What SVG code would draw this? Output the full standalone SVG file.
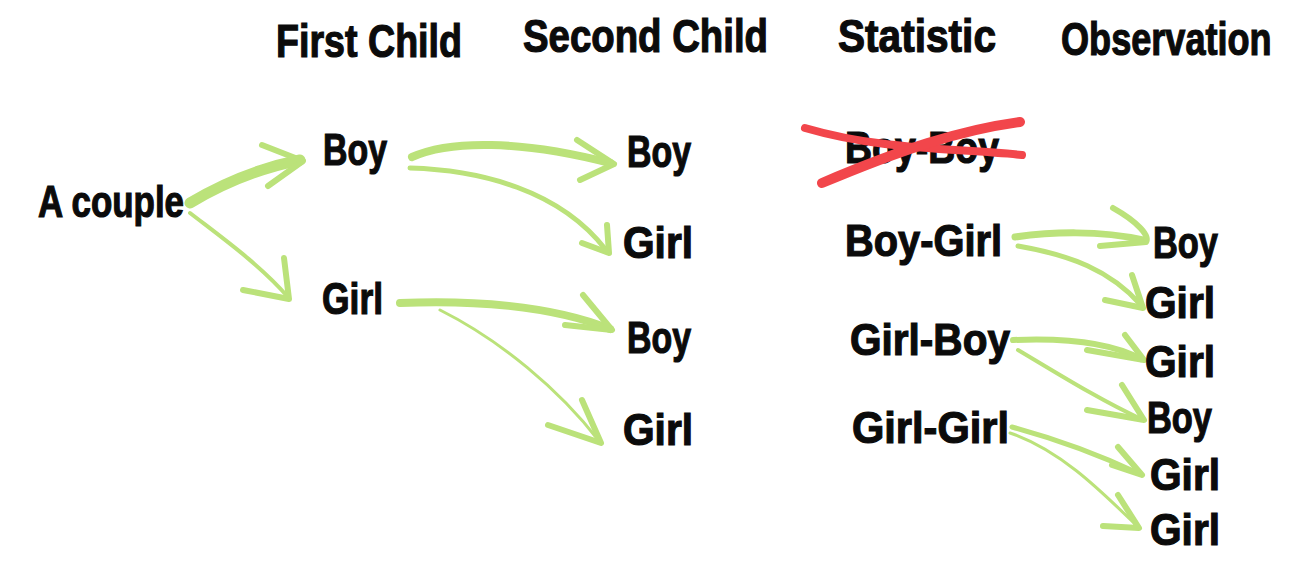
<svg xmlns="http://www.w3.org/2000/svg" width="1295" height="569" viewBox="0 0 1295 569">
<style>
text{font-family:"Liberation Sans","DejaVu Sans",sans-serif;font-weight:bold;fill:#0b0b0b;stroke:#0b0b0b;stroke-width:1.2;font-size:45px}
.h{font-size:46px}
.a{fill:none;stroke:#bbe27a;stroke-linecap:round;stroke-linejoin:round}
.hd{fill:none;stroke:#bbe27a;stroke-width:6;stroke-linecap:round;stroke-linejoin:round}
.x{fill:none;stroke:#f2464b;stroke-linecap:round}
</style>
<rect width="1295" height="569" fill="#ffffff"/>
<g id="headers">
<text class="h" x="276" y="57" textLength="186" lengthAdjust="spacingAndGlyphs">First Child</text>
<text class="h" x="523" y="52" textLength="245" lengthAdjust="spacingAndGlyphs">Second Child</text>
<text class="h" x="838" y="52" textLength="158" lengthAdjust="spacingAndGlyphs">Statistic</text>
<text class="h" transform="translate(1061,55) scale(0.785,1)" x="0" y="0">Observation</text>
</g>
<g id="connectors">
<path class="a" stroke-width="11" d="M190,203 C225,182 260,168 300,160"/>
<path class="hd" stroke-width="7" d="M262,145 L303,161 L268,186"/>
<path class="a" stroke-width="4" d="M190,213 C225,240 260,265 288,297"/>
<path class="hd" d="M284,258 L289,299 L243,290"/>
<path class="a" stroke-width="8" d="M412,157 C450,140 520,140 610,163"/>
<path class="hd" d="M577,140 L614,164 L580,180"/>
<path class="a" stroke-width="5" d="M410,168 C480,170 560,190 606,250"/>
<path class="hd" d="M607,225 L609,253 L582,243"/>
<path class="a" stroke-width="8" d="M400,303 C470,300 550,305 610,329"/>
<path class="hd" d="M583,295 L612,330 L565,325"/>
<path class="a" stroke-width="3" d="M440,310 C500,340 560,390 599,441"/>
<path class="hd" d="M582,400 L601,443 L548,425"/>
<path class="a" stroke-width="7" d="M1015,237 C1050,232 1100,230 1143,240"/>
<path class="hd" d="M1113,208 C1138,222 1150,236 1146,242 L1100,246"/>
<path class="a" stroke-width="5" d="M1018,246 C1070,255 1110,270 1141,305"/>
<path class="hd" d="M1132,275 L1143,308 L1105,300"/>
<path class="a" stroke-width="6" d="M1013,340 C1060,338 1110,342 1141,359"/>
<path class="hd" d="M1125,335 L1144,360 L1087,350"/>
<path class="a" stroke-width="4" d="M1018,350 C1060,375 1100,400 1141,419"/>
<path class="hd" d="M1122,385 L1144,420 L1087,410"/>
<path class="a" stroke-width="5" d="M1012,427 C1060,440 1100,455 1140,474"/>
<path class="hd" d="M1118,447 L1142,475 L1112,465"/>
<path class="a" stroke-width="3" d="M1010,433 C1060,450 1100,490 1137,526"/>
<path class="hd" d="M1118,495 L1139,528 L1103,526"/>
</g>
<g id="root"><text x="38" y="217" textLength="146" lengthAdjust="spacingAndGlyphs">A couple</text></g>
<g id="first-boy"><text x="323" y="165" textLength="64" lengthAdjust="spacingAndGlyphs">Boy</text></g>
<g id="first-girl"><text x="322" y="314" textLength="61" lengthAdjust="spacingAndGlyphs">Girl</text></g>
<g id="second-boy-1"><text x="627" y="167" textLength="64" lengthAdjust="spacingAndGlyphs">Boy</text></g>
<g id="second-girl-1"><text x="623" y="258" textLength="70" lengthAdjust="spacingAndGlyphs">Girl</text></g>
<g id="second-boy-2"><text x="627" y="353" textLength="64" lengthAdjust="spacingAndGlyphs">Boy</text></g>
<g id="second-girl-2"><text x="623" y="445" textLength="70" lengthAdjust="spacingAndGlyphs">Girl</text></g>
<g id="stat-boy-boy">
<text x="845" y="163" textLength="154" lengthAdjust="spacingAndGlyphs">Boy-Boy</text>
<path class="x" stroke-width="8" d="M805,128 C880,150 950,148 1022,155"/>
<path class="x" stroke-width="10" d="M822,183 C900,150 960,130 1020,122"/>
</g>
<g id="stat-boy-girl"><text x="845" y="256" textLength="157" lengthAdjust="spacingAndGlyphs">Boy-Girl</text></g>
<g id="stat-girl-boy"><text x="850" y="355" textLength="160" lengthAdjust="spacingAndGlyphs">Girl-Boy</text></g>
<g id="stat-girl-girl"><text x="852" y="443" textLength="157" lengthAdjust="spacingAndGlyphs">Girl-Girl</text></g>
<g id="obs-1"><text x="1153" y="258" textLength="65" lengthAdjust="spacingAndGlyphs">Boy</text></g>
<g id="obs-2"><text x="1145" y="318" textLength="70" lengthAdjust="spacingAndGlyphs">Girl</text></g>
<g id="obs-3"><text x="1145" y="377" textLength="70" lengthAdjust="spacingAndGlyphs">Girl</text></g>
<g id="obs-4"><text x="1147" y="433" textLength="65" lengthAdjust="spacingAndGlyphs">Boy</text></g>
<g id="obs-5"><text x="1150" y="490" textLength="70" lengthAdjust="spacingAndGlyphs">Girl</text></g>
<g id="obs-6"><text x="1150" y="545" textLength="70" lengthAdjust="spacingAndGlyphs">Girl</text></g>
</svg>
